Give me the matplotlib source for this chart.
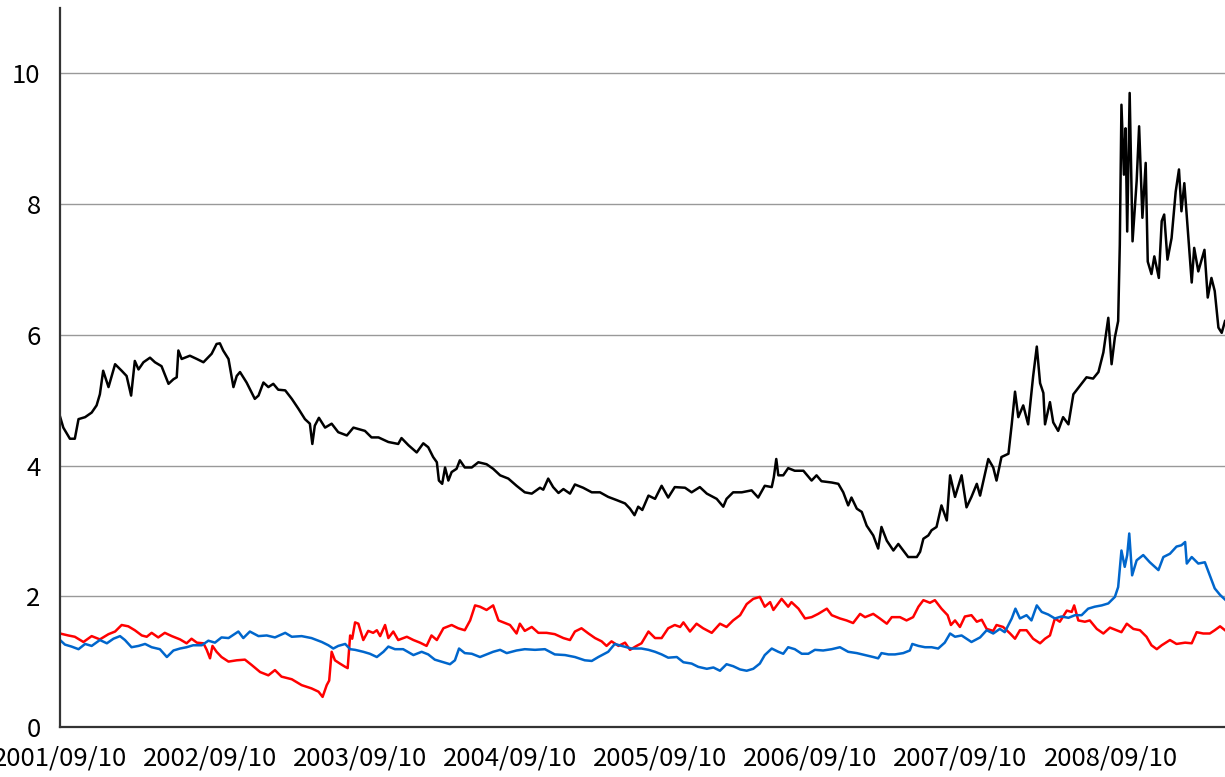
import matplotlib
matplotlib.use('Agg')
import matplotlib.pyplot as plt
import pandas as pd

# days since 2001/09/10 and values
black_days = [0, 8, 24, 36, 45, 61, 77, 89, 97, 105, 118, 134, 150, 162, 173, 182, 191, 203, 219, 231,
              247, 264, 276, 284, 288, 296, 316, 333, 349, 369, 381, 389, 397, 410, 422, 430, 438, 454,
              474, 483, 495, 507, 519, 531, 548, 564, 580, 596, 608, 614, 620, 630, 645, 661, 677, 698,
              714, 742, 758, 775, 799, 823, 831, 848, 868, 884, 896, 908, 917, 922, 930, 937, 945, 953,
              965, 973, 985, 1002, 1018, 1038, 1054, 1071, 1091, 1111, 1131, 1148, 1168, 1176, 1188,
              1200, 1213, 1225, 1241, 1253, 1273, 1294, 1314, 1334, 1355, 1375, 1387, 1398, 1407, 1417,
              1432, 1448, 1464, 1480, 1496, 1521, 1537, 1557, 1574, 1598, 1614, 1622, 1638, 1659, 1683,
              1699, 1715, 1732, 1737, 1743, 1748, 1760, 1772, 1788, 1809, 1829, 1841, 1853, 1878, 1894,
              1906, 1918, 1926, 1939, 1951, 1963, 1979, 1991, 1999, 2012, 2028, 2040, 2052, 2064, 2085,
              2093, 2101, 2113, 2121, 2133, 2145, 2158, 2166, 2178, 2194, 2206, 2218, 2231, 2239, 2259,
              2271, 2279, 2291, 2308, 2316, 2324, 2332, 2344, 2356, 2368, 2377, 2385, 2393, 2397, 2409,
              2417, 2429, 2441, 2454, 2466, 2482, 2498, 2514, 2527, 2539, 2551, 2559, 2567, 2575, 2579,
              2583, 2589, 2593, 2597, 2603, 2610, 2620, 2626, 2634, 2642, 2647, 2656, 2663, 2674, 2681,
              2687, 2695, 2705, 2715, 2723, 2729, 2736, 2746, 2754, 2760, 2770, 2785, 2793, 2802, 2810,
              2819, 2827, 2835]
black_vals = [4.75, 4.58, 4.41, 4.41, 4.71, 4.74, 4.81, 4.92, 5.09, 5.45, 5.20, 5.55, 5.45, 5.37, 5.07,
              5.60, 5.47, 5.58, 5.65, 5.58, 5.52, 5.25, 5.32, 5.35, 5.76, 5.63, 5.68, 5.63, 5.58, 5.71,
              5.86, 5.87, 5.76, 5.63, 5.20, 5.37, 5.43, 5.27, 5.02, 5.07, 5.27, 5.20, 5.25, 5.16, 5.15,
              5.02, 4.87, 4.71, 4.64, 4.33, 4.61, 4.73, 4.58, 4.64, 4.51, 4.46, 4.58, 4.53, 4.43, 4.43,
              4.36, 4.33, 4.42, 4.31, 4.20, 4.34, 4.28, 4.13, 4.05, 3.77, 3.72, 3.97, 3.77, 3.90, 3.95,
              4.08, 3.97, 3.97, 4.05, 4.02, 3.95, 3.85, 3.80, 3.69, 3.59, 3.57, 3.66, 3.63, 3.80, 3.67,
              3.58, 3.64, 3.57, 3.71, 3.66, 3.59, 3.59, 3.52, 3.47, 3.42, 3.34, 3.24, 3.37, 3.32, 3.54,
              3.49, 3.69, 3.51, 3.67, 3.66, 3.59, 3.67, 3.57, 3.49, 3.37, 3.49, 3.59, 3.59, 3.62, 3.51,
              3.69, 3.67, 3.82, 4.10, 3.85, 3.85, 3.96, 3.92, 3.92, 3.77, 3.85, 3.76, 3.74, 3.72, 3.59,
              3.39, 3.51, 3.34, 3.29, 3.08, 2.93, 2.73, 3.06, 2.85, 2.70, 2.80, 2.70, 2.60, 2.60, 2.68,
              2.88, 2.93, 3.01, 3.06, 3.39, 3.16, 3.85, 3.52, 3.85, 3.36, 3.52, 3.72, 3.54, 4.10, 3.97,
              3.77, 4.13, 4.18, 4.63, 5.13, 4.74, 4.92, 4.63, 5.36, 5.82, 5.26, 5.11, 4.63, 4.97, 4.66,
              4.53, 4.74, 4.63, 5.09, 5.22, 5.35, 5.33, 5.43, 5.73, 6.26, 5.55, 5.96, 6.21, 7.38, 9.52,
              8.45, 9.16, 7.58, 9.70, 7.43, 8.35, 9.19, 7.79, 8.63, 7.12, 6.93, 7.20, 6.87, 7.74, 7.84,
              7.15, 7.48, 8.19, 8.53, 7.89, 8.32, 7.48, 6.80, 7.33, 6.97, 7.30, 6.57, 6.87, 6.67, 6.11,
              6.03, 6.21]

red_days = [0, 20, 36, 57, 77, 97, 118, 134, 150, 166, 182, 199, 211, 223, 239, 255, 272, 292, 308, 320,
            333, 349, 357, 365, 371, 381, 393, 410, 430, 450, 466, 487, 507, 523, 539, 564, 588, 612, 629,
            639, 649, 655, 661, 669, 681, 694, 700, 706, 711, 718, 726, 738, 750, 762, 771, 779, 791, 799,
            811, 823, 844, 860, 876, 892, 904, 917, 933, 953, 969, 985, 998, 1010, 1022, 1038, 1054, 1067,
            1079, 1095, 1111, 1119, 1131, 1148, 1164, 1184, 1204, 1225, 1241, 1253, 1269, 1286, 1302, 1318,
            1330, 1342, 1359, 1375, 1387, 1403, 1415, 1432, 1448, 1464, 1480, 1496, 1509, 1517, 1533, 1549,
            1565, 1586, 1606, 1622, 1638, 1655, 1671, 1687, 1703, 1715, 1728, 1736, 1756, 1772, 1780, 1797,
            1813, 1829, 1845, 1866, 1878, 1898, 1914, 1930, 1947, 1959, 1979, 1995, 2012, 2024, 2044, 2060,
            2076, 2089, 2101, 2117, 2129, 2145, 2160, 2168, 2178, 2190, 2202, 2218, 2231, 2243, 2255, 2271,
            2279, 2295, 2312, 2324, 2336, 2352, 2368, 2385, 2397, 2409, 2421, 2433, 2450, 2462, 2468, 2478,
            2494, 2506, 2523, 2539, 2555, 2571, 2583, 2596, 2612, 2628, 2644, 2656, 2669, 2681, 2701, 2717,
            2738, 2754, 2766, 2782, 2798, 2810, 2823, 2835]
red_vals = [1.43, 1.40, 1.38, 1.30, 1.39, 1.34, 1.42, 1.46, 1.56, 1.54, 1.48, 1.40, 1.38, 1.44, 1.37,
            1.44, 1.39, 1.34, 1.28, 1.35, 1.29, 1.28, 1.18, 1.05, 1.24, 1.15, 1.07, 1.00, 1.02, 1.03,
            0.95, 0.84, 0.79, 0.87, 0.77, 0.73, 0.64, 0.59, 0.54, 0.46, 0.64, 0.71, 1.15, 1.02, 0.97,
            0.92, 0.90, 1.40, 1.35, 1.60, 1.58, 1.33, 1.47, 1.44, 1.48, 1.39, 1.56, 1.36, 1.46, 1.33,
            1.38, 1.33, 1.29, 1.24, 1.40, 1.33, 1.51, 1.56, 1.51, 1.48, 1.63, 1.86, 1.84, 1.79, 1.86,
            1.63, 1.60, 1.56, 1.43, 1.58, 1.47, 1.53, 1.44, 1.44, 1.42, 1.36, 1.33, 1.46, 1.51, 1.43,
            1.36, 1.31, 1.24, 1.31, 1.24, 1.29, 1.18, 1.24, 1.28, 1.46, 1.36, 1.36, 1.51, 1.56, 1.53,
            1.60, 1.46, 1.58, 1.51, 1.44, 1.58, 1.53, 1.63, 1.71, 1.88, 1.96, 1.99, 1.84, 1.91, 1.79,
            1.96, 1.84, 1.91, 1.81, 1.66, 1.68, 1.73, 1.81, 1.71, 1.66, 1.63, 1.59, 1.73, 1.68, 1.73,
            1.66, 1.58, 1.68, 1.68, 1.63, 1.68, 1.84, 1.94, 1.90, 1.94, 1.81, 1.71, 1.56, 1.63, 1.53,
            1.69, 1.71, 1.61, 1.64, 1.50, 1.47, 1.56, 1.53, 1.43, 1.35, 1.48, 1.48, 1.35, 1.28, 1.35,
            1.40, 1.66, 1.61, 1.78, 1.76, 1.86, 1.63, 1.61, 1.63, 1.50, 1.43, 1.52, 1.48, 1.45, 1.58,
            1.50, 1.48, 1.38, 1.25, 1.19, 1.25, 1.33, 1.27, 1.29, 1.28, 1.45, 1.43, 1.43, 1.48, 1.54,
            1.48]

blue_days = [0, 12, 28, 45, 61, 77, 97, 114, 130, 146, 158, 174, 191, 207, 223, 243, 260, 276, 292, 308,
             324, 345, 361, 377, 393, 410, 434, 446, 462, 483, 503, 523, 548, 564, 588, 612, 637, 653, 665,
             677, 694, 706, 718, 738, 754, 771, 787, 799, 815, 835, 860, 880, 896, 912, 933, 949, 961, 971,
             985, 1002, 1022, 1038, 1054, 1071, 1087, 1111, 1131, 1156, 1180, 1204, 1229, 1253, 1277, 1294,
             1310, 1334, 1350, 1367, 1391, 1415, 1432, 1448, 1464, 1480, 1501, 1517, 1537, 1553, 1574, 1590,
             1606, 1622, 1638, 1655, 1671, 1687, 1703, 1715, 1732, 1748, 1760, 1772, 1788, 1805, 1821, 1837,
             1857, 1878, 1898, 1918, 1939, 1959, 1979, 1991, 1999, 2016, 2032, 2052, 2068, 2074, 2089, 2105,
             2121, 2137, 2153, 2166, 2178, 2194, 2218, 2239, 2255, 2271, 2287, 2299, 2316, 2325, 2336, 2352,
             2364, 2377, 2389, 2405, 2421, 2437, 2454, 2470, 2486, 2502, 2518, 2535, 2551, 2567, 2575, 2583,
             2591, 2597, 2602, 2609, 2620, 2636, 2652, 2673, 2685, 2701, 2717, 2729, 2738, 2742, 2754, 2770,
             2786, 2798, 2810, 2823, 2835]
blue_vals = [1.33, 1.26, 1.23, 1.19, 1.27, 1.24, 1.33, 1.28, 1.35, 1.39, 1.33, 1.22, 1.24, 1.27, 1.22,
             1.19, 1.07, 1.17, 1.20, 1.22, 1.25, 1.25, 1.32, 1.29, 1.37, 1.36, 1.46, 1.36, 1.46, 1.39,
             1.40, 1.37, 1.44, 1.38, 1.39, 1.36, 1.30, 1.25, 1.20, 1.24, 1.27, 1.19, 1.18, 1.15, 1.12,
             1.07, 1.15, 1.23, 1.19, 1.19, 1.10, 1.15, 1.11, 1.03, 0.99, 0.96, 1.02, 1.20, 1.13, 1.12,
             1.07, 1.11, 1.15, 1.18, 1.13, 1.17, 1.19, 1.18, 1.19, 1.11, 1.10, 1.07, 1.02, 1.01, 1.07,
             1.15, 1.27, 1.24, 1.20, 1.20, 1.18, 1.15, 1.11, 1.06, 1.07, 0.99, 0.97, 0.92, 0.89, 0.91,
             0.86, 0.96, 0.93, 0.88, 0.86, 0.89, 0.97, 1.10, 1.20, 1.15, 1.12, 1.22, 1.19, 1.12, 1.12,
             1.18, 1.17, 1.19, 1.22, 1.15, 1.13, 1.10, 1.07, 1.05, 1.13, 1.11, 1.11, 1.13, 1.17, 1.27,
             1.24, 1.22, 1.22, 1.20, 1.29, 1.43, 1.38, 1.40, 1.30, 1.37, 1.48, 1.43, 1.50, 1.45, 1.66,
             1.81, 1.66, 1.71, 1.63, 1.86, 1.76, 1.72, 1.66, 1.69, 1.67, 1.71, 1.71, 1.81, 1.84, 1.86,
             1.89, 1.99, 2.14, 2.70, 2.45, 2.63, 2.96, 2.32, 2.55, 2.63, 2.52, 2.40, 2.60, 2.65, 2.76,
             2.78, 2.83, 2.50, 2.60, 2.50, 2.52, 2.32, 2.12, 2.02, 1.95]

tick_labels = ['2001/09/10', '2002/09/10', '2003/09/10', '2004/09/10',
               '2005/09/10', '2006/09/10', '2007/09/10', '2008/09/10']

start = pd.Timestamp('2001-09-10')


def to_dates(days):
    return start + pd.to_timedelta(days, unit='D')


plt.rcParams['font.family'] = ['Noto Sans CJK JP', 'DejaVu Sans']

fig = plt.figure(figsize=(12.25, 7.77), dpi=100)
ax = fig.add_axes([0.049, 0.0644, 0.951, 0.9253])

ax.plot(to_dates(black_days), black_vals, color='black', linewidth=1.8)
ax.plot(to_dates(red_days), red_vals, color='#FF0000', linewidth=1.8)
ax.plot(to_dates(blue_days), blue_vals, color='#0066CC', linewidth=1.8)

ax.set_ylim(0, 11)
ax.set_yticks([0, 2, 4, 6, 8, 10])
ax.set_xlim(to_dates([0])[0], to_dates([2835])[0])
ax.set_xticks([pd.Timestamp(s.replace('/', '-')) for s in tick_labels])
ax.set_xticklabels(tick_labels)
ax.yaxis.grid(True, color='#999999', linewidth=1)
ax.set_axisbelow(True)
ax.tick_params(axis='both', length=0, labelsize=18.5)
ax.tick_params(axis='x', pad=13)
ax.tick_params(axis='y', pad=14)
for side in ['top', 'right']:
    ax.spines[side].set_visible(False)
for side in ['left', 'bottom']:
    ax.spines[side].set_color('#333333')
    ax.spines[side].set_linewidth(1.6)

fig.savefig('out.png', dpi=100)
